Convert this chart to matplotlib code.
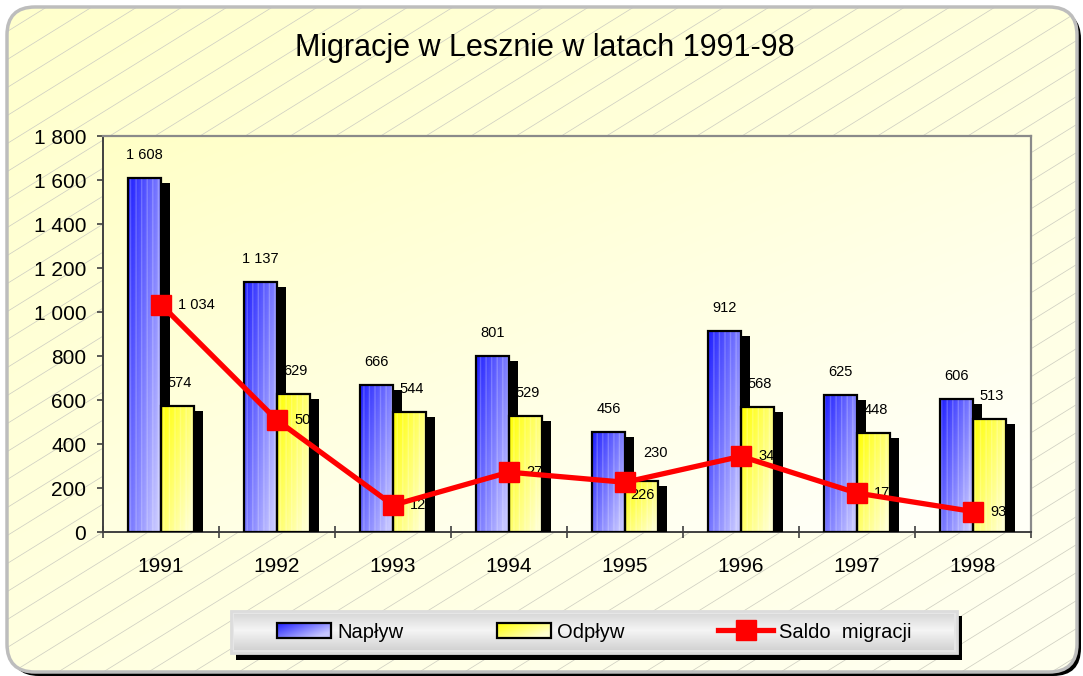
import numpy as np
import matplotlib
matplotlib.use("Agg")
import matplotlib.pyplot as plt
from matplotlib.patches import FancyBboxPatch, Rectangle
from matplotlib.lines import Line2D
from matplotlib.transforms import ScaledTranslation
from matplotlib.ticker import FuncFormatter, FixedLocator

plt.rcParams['font.family'] = ['Liberation Sans', 'DejaVu Sans']

# ---------------- data ----------------
years = ["1991", "1992", "1993", "1994", "1995", "1996", "1997", "1998"]
naplyw = [1608, 1137, 666, 801, 456, 912, 625, 606]
odplyw = [574, 629, 544, 529, 230, 568, 448, 513]
saldo = [1034, 508, 122, 272, 226, 344, 177, 93]
title = "Migracje w Lesznie w latach 1991-98"
series_names = ["Napływ", "Odpływ", "Saldo  migracji"]

W, H = 1083, 676
fig = plt.figure(figsize=(W / 100, H / 100), dpi=100)

def fmt(v):
    return f"{int(v):,}".replace(",", " ")

def grad_img(dark, light, nu=30, nv=80, a=0.6, b=0.5):
    vv, uu = np.mgrid[0:1:complex(nv), 0:1:complex(nu)]
    tt = np.clip(a * uu + b * vv, 0, 1)
    d = np.array(dark)
    l = np.array(light)
    return d[None, None, :] * (1 - tt[..., None]) + l[None, None, :] * tt[..., None]

blue_dark, blue_light = (0.12, 0.12, 1.0), (0.78, 0.78, 1.0)
yel_dark, yel_light = (1.0, 1.0, 0.0), (1.0, 1.0, 0.82)

# ---------------- background (pixel coords) ----------------
bg = fig.add_axes([0, 0, 1, 1], zorder=-10)
bg.set_xlim(0, W)
bg.set_ylim(H, 0)
bg.axis("off")

bg.add_patch(FancyBboxPatch((11, 11), 1070, 665, boxstyle="round,pad=0,rounding_size=28",
                            facecolor="black", edgecolor="none", zorder=0))
outer = FancyBboxPatch((7, 7), 1070, 665, boxstyle="round,pad=0,rounding_size=28",
                       facecolor="#FFFFDC", edgecolor="none", zorder=1)
bg.add_patch(outer)
gy, gx = np.mgrid[0:1:60j, 0:1:100j]
t = np.clip(0.5 * gx + 0.6 * gy, 0, 1)
c0 = np.array([1.0, 1.0, 0.80])
c1 = np.array([1.0, 1.0, 0.93])
img = c0[None, None, :] * (1 - t[..., None]) + c1[None, None, :] * t[..., None]
im = bg.imshow(img, extent=[7, 1077, 672, 7], aspect="auto", zorder=1.5, interpolation="bilinear")
im.set_clip_path(outer)
for k in range(-40, 60):
    y0 = k * 28.0
    xs = np.array([0, W])
    ys = y0 - 0.62 * xs + 400
    ln = Line2D(xs, ys, color="#D0D0C2", lw=0.55, zorder=2)
    bg.add_line(ln)
    ln.set_clip_path(outer)
bg.add_patch(FancyBboxPatch((7, 7), 1070, 665, boxstyle="round,pad=0,rounding_size=28",
                            facecolor="none", edgecolor="#BDBDBD", lw=2.5, zorder=3))

# plot area gradient
px0, px1, py0, py1 = 103, 1031, 136, 532
gy, gx = np.mgrid[0:1:60j, 0:1:100j]
t = np.clip(0.55 * gx + 0.55 * gy, 0, 1)
c0 = np.array([1.0, 1.0, 0.78])
c1 = np.array([1.0, 1.0, 0.97])
img = c0[None, None, :] * (1 - t[..., None]) + c1[None, None, :] * t[..., None]
bg.imshow(img, extent=[px0, px1, py1, py0], aspect="auto", zorder=4, interpolation="bilinear")

# legend box
bg.add_patch(Rectangle((236, 616), 726, 44, facecolor="black", edgecolor="none", zorder=5))
bg.add_patch(Rectangle((231, 611), 726, 42, facecolor="#E6E6E6", edgecolor="#DCDCDC", lw=2, zorder=6))
gy = np.linspace(0, 1, 40)[:, None] * np.ones((1, 10))
tt = 1 - np.abs(gy - 0.45) * 2
limg = np.stack([0.84 + 0.12 * tt] * 3, axis=-1)
bg.imshow(limg, extent=[234, 954, 650, 614], aspect="auto", zorder=6.5, interpolation="bilinear")
bg.set_xlim(0, W)
bg.set_ylim(H, 0)

# ---------------- main axes ----------------
ax = fig.add_axes([px0 / W, (H - py1) / H, (px1 - px0) / W, (py1 - py0) / H], zorder=1)
ax.patch.set_visible(False)

n = len(years)
x = np.arange(n)
bw = 0.285

shadow_tr = ax.transData + ScaledTranslation(9 / 100, -5 / 100, fig.dpi_scale_trans)

specs = [
    (naplyw, -bw / 2, blue_dark, blue_light),
    (odplyw, bw / 2, yel_dark, yel_light),
]
for vals, off, dark, light in specs:
    sh = ax.bar(x + off, vals, width=bw, color="black", linewidth=0, zorder=3)
    for p in sh:
        p.set_transform(shadow_tr)
    bars = ax.bar(x + off, vals, width=bw, facecolor="none", edgecolor="black", linewidth=1.6, zorder=5)
    g = grad_img(dark, light)
    for p, v, xi in zip(bars, vals, x):
        im = ax.imshow(g, extent=[xi + off - bw / 2, xi + off + bw / 2, 0, v], aspect="auto",
                       zorder=4, interpolation="bilinear")
        im.set_clip_path(p)
    ax.bar(x + off, vals, width=bw, facecolor="none", edgecolor=(1, 1, 1, 0.22),
           hatch="|||", linewidth=0, zorder=4.5)

ax.plot(x, saldo, color="#FF0000", lw=3.8, marker="s", markersize=15,
        markerfacecolor="#FF0000", markeredgecolor="#FF0000", zorder=7, clip_on=False)

# data labels
lab_fs = 10.5
for xi, v in zip(x, naplyw):
    ax.annotate(fmt(v), (xi - bw / 2, v), xytext=(0, 23), textcoords="offset pixels",
                ha="center", va="center", fontsize=lab_fs, zorder=6)
for i, (xi, v) in enumerate(zip(x, odplyw)):
    dx, dy = (14, 28) if i == 4 else (2, 23)
    ax.annotate(fmt(v), (xi + bw / 2, v), xytext=(dx, dy), textcoords="offset pixels",
                ha="center", va="center", fontsize=lab_fs, zorder=6)
for i, (xi, v) in enumerate(zip(x, saldo)):
    dx, dy = (5, -13) if i == 4 else (17, 0)
    ax.annotate(fmt(v), (xi, v), xytext=(dx, dy), textcoords="offset pixels",
                ha="left", va="center", fontsize=lab_fs, zorder=6)

ax.set_xlim(-0.5, n - 0.5)
ax.set_ylim(0, 1800)
ax.set_yticks(np.arange(0, 1801, 200))
ax.yaxis.set_major_formatter(FuncFormatter(lambda v, p: fmt(v)))
ax.xaxis.set_major_locator(FixedLocator(np.arange(-0.5, n, 1.0)))
ax.xaxis.set_major_formatter(FuncFormatter(lambda v, p: ""))
ax.set_xticks(x, minor=True)
ax.set_xticklabels(years, minor=True)
ax.tick_params(axis="x", which="major", direction="inout", length=9, width=1.2, color="#404040")
ax.tick_params(axis="x", which="minor", length=0, pad=18, labelsize=15)
ax.tick_params(axis="y", direction="out", length=4, width=1.2, color="#404040", pad=8, labelsize=15)

for s in ["left", "bottom"]:
    ax.spines[s].set_color("#404040")
    ax.spines[s].set_linewidth(1.4)
for s in ["top", "right"]:
    ax.spines[s].set_color("#8A8A8A")
    ax.spines[s].set_linewidth(1.6)

fig.text(545 / W, 1 - 48 / H, title, ha="center", va="center", fontsize=22)

handles = [
    Rectangle((0, 0), 1, 1, facecolor="none", edgecolor="black", lw=1.6),
    Rectangle((0, 0), 1, 1, facecolor="none", edgecolor="black", lw=1.6),
    Line2D([0], [0], color="#FF0000", lw=3.8, marker="s", markersize=15),
]
leg = fig.legend(handles, series_names, loc="center", bbox_to_anchor=(594 / W, 1 - 632 / H),
                 ncol=3, frameon=False, fontsize=14.5, handlelength=2.7, handleheight=0.8,
                 handletextpad=0.3, columnspacing=4.65)

# gradient fill for the legend patches, placed exactly under the legend handles
fig.canvas.draw()
for hnd, (dk, lt) in zip(leg.legend_handles[:2], [(blue_dark, blue_light), (yel_dark, yel_light)]):
    bb = hnd.get_window_extent()
    gimg = grad_img(dk, lt, 40, 10, a=0.7, b=0.5)
    bg.imshow(gimg, extent=[bb.x0, bb.x1, H - bb.y0, H - bb.y1], aspect="auto",
              zorder=7, interpolation="bilinear")
bg.set_xlim(0, W)
bg.set_ylim(H, 0)

fig.savefig("out.png", dpi=100)
